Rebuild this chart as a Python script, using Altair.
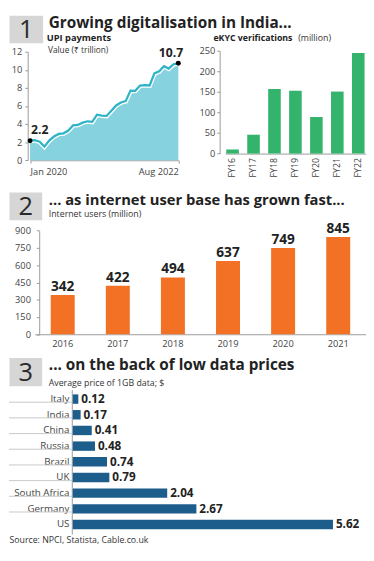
import altair as alt
import pandas as pd

# ---------------- data ----------------
month_names = ["Jan", "Feb", "Mar", "Apr", "May", "Jun", "Jul", "Aug", "Sep", "Oct", "Nov", "Dec"]
months = [f"{m} {y}" for y in (2020, 2021, 2022) for m in month_names][:32]
upi_values = [2.16, 2.23, 2.06, 1.51, 2.18, 2.62, 2.91, 2.98, 3.29, 3.86, 3.91, 4.16,
              4.31, 4.25, 5.04, 4.93, 4.90, 5.47, 6.06, 6.39, 6.54, 7.71, 7.68, 8.26,
              8.32, 8.27, 9.60, 9.83, 10.41, 10.14, 10.62, 10.72]
upi_ticks = [0, 2, 4, 6, 8, 10, 12]

ekyc_years = ["FY16", "FY17", "FY18", "FY19", "FY20", "FY21", "FY22"]
ekyc_values = [10, 46, 157, 153, 89, 151, 245]
ekyc_ticks = [0, 50, 100, 150, 200, 250]

internet_years = ["2016", "2017", "2018", "2019", "2020", "2021"]
internet_users = [342, 422, 494, 637, 749, 845]
internet_ticks = [0, 150, 300, 450, 600, 750, 900]

countries = ["Italy", "India", "China", "Russia", "Brazil", "UK", "South Africa", "Germany", "US"]
prices = [0.12, 0.17, 0.41, 0.48, 0.74, 0.79, 2.04, 2.67, 5.62]

# ---------------- style ----------------
W, H = 366, 545
FONT = "Open Sans"
TXT = "#222222"
AX = "#9a9a9a"
LBL = "#444444"
BOX = "#d6d6d6"
TEAL_FILL = "#86d2de"
TEAL_LINE = "#2fb3c7"
GREEN = "#33b36c"
ORANGE = "#f27124"
BLUE = "#1d5d8b"

one = pd.DataFrame({"k": [0]})


def txt(s, x, y, size=9, weight="normal", color=TXT, align="left", baseline="alphabetic"):
    return alt.Chart(one).mark_text(
        text=s, fontSize=size, fontWeight=weight, font=FONT, color=color,
        align=align, baseline=baseline
    ).encode(x=alt.value(x), y=alt.value(y))


def box(x0, x1, y0, y1, num):
    r = alt.Chart(one).mark_rect(color=BOX).encode(
        x=alt.value(x0), x2=alt.value(x1), y=alt.value(y0), y2=alt.value(y1))
    t = alt.Chart(one).mark_text(text=num, fontSize=26, font=FONT, color="#2a2a2a",
                                 align="center", baseline="middle").encode(
        x=alt.value((x0 + x1) / 2), y=alt.value((y0 + y1) / 2 + 1))
    return [r, t]


def axis(orient, offset, **kw):
    base = dict(orient=orient, offset=offset, title=None, grid=False,
                domainColor=AX, tickColor=AX, labelColor=LBL, labelFont=FONT,
                labelFontSize=9.5)
    base.update(kw)
    return alt.Axis(**base)


# ---------------- panel 1a: UPI ----------------
upi_df = pd.DataFrame({"month": months, "value": upi_values})
ux = alt.X("month:O", sort=months,
           scale=alt.Scale(type="point", range=[21.6, 173.6], padding=0),
           axis=axis("bottom", 148.2 - H, values=["Jan 2020", "Aug 2022"], labelAngle=0,
                     labelFlush=True, tickSize=3, labelPadding=4))
uy = alt.Y("value:Q",
           scale=alt.Scale(domain=[0, 12], range=[148.2, 37], nice=False),
           axis=axis("left", -19.2, values=upi_ticks, tickSize=3, labelPadding=3))
ub = alt.Chart(upi_df)
upi = alt.layer(
    ub.mark_area(color=TEAL_FILL).encode(x=ux, y=uy, y2=alt.datum(0)),
    ub.mark_line(color="white", strokeWidth=5).encode(x=ux, y=uy),
    ub.mark_line(color=TEAL_LINE, strokeWidth=2.3).encode(x=ux, y=uy),
    ub.mark_circle(color="black", size=26, opacity=1).encode(x=ux, y=uy).transform_filter(
        "datum.month == 'Jan 2020' || datum.month == 'Aug 2022'"),
    ub.mark_text(fontSize=12.5, fontWeight="bold", font=FONT, color=TXT, align="left",
                 baseline="alphabetic", dx=1, dy=-7).encode(
        x=ux, y=uy, text=alt.Text("value:Q", format=".1f")).transform_filter(
        "datum.month == 'Jan 2020'"),
    ub.mark_text(fontSize=12.5, fontWeight="bold", font=FONT, color=TXT, align="right",
                 baseline="alphabetic", dx=5, dy=-6).encode(
        x=ux, y=uy, text=alt.Text("value:Q", format=".1f")).transform_filter(
        "datum.month == 'Aug 2022'"),
)

# ---------------- panel 1b: eKYC ----------------
ek_df = pd.DataFrame({"year": ekyc_years, "value": ekyc_values})
ex = alt.X("year:N", sort=ekyc_years,
           scale=alt.Scale(range=[221.7, 365.6], paddingInner=0.4, paddingOuter=0.05),
           axis=axis("bottom", 141.4 - H, labelAngle=270, ticks=False, labelPadding=4,
                     labelFontSize=9))
ey = alt.Y("value:Q", scale=alt.Scale(domain=[0, 250], range=[141.4, 36.1], nice=False),
           axis=axis("left", -216, values=ekyc_ticks, tickSize=3, labelPadding=2))
ekyc = alt.Chart(ek_df).mark_bar(color=GREEN).encode(x=ex, y=ey, y2=alt.datum(0))

# ---------------- panel 2: internet users ----------------
in_df = pd.DataFrame({"year": internet_years, "users": internet_users})
ix = alt.X("year:N", sort=internet_years,
           scale=alt.Scale(range=[26.6, 366], paddingInner=0.565, paddingOuter=0.287),
           axis=axis("bottom", 326.6 - H, labelAngle=0, ticks=False, labelPadding=5))
iy = alt.Y("users:Q", scale=alt.Scale(domain=[0, 900], range=[326.6, 220.4], nice=False),
           axis=axis("left", -31, values=internet_ticks, tickSize=3, labelPadding=6))
ib = alt.Chart(in_df)
internet = alt.layer(
    ib.mark_bar(color=ORANGE).encode(x=ix, y=iy, y2=alt.datum(0)),
    ib.mark_text(fontSize=14, fontWeight="bold", font=FONT, color=TXT,
                 baseline="alphabetic", dy=-4).encode(x=ix, y=iy, text="users:Q"),
)

# ---------------- panel 3: data prices ----------------
pr_df = pd.DataFrame({"country": countries, "price": prices})
py = alt.Y("country:N", sort=countries,
           scale=alt.Scale(range=[383.4, 531.3], paddingInner=0.4, paddingOuter=0.3),
           axis=axis("left", -64.4, ticks=False, labelPadding=3, labelFontSize=10))
px = alt.X("price:Q", scale=alt.Scale(domain=[0, 6.3], range=[65.4, 364.4], nice=False),
           axis=None)
pb = alt.Chart(pr_df)
price = alt.layer(
    pb.mark_rule(color="#c8c8c8", strokeWidth=1).encode(
        y=py, x=alt.value(0), x2=alt.value(64.4), yOffset=alt.value(8.04)).transform_filter(
        "datum.country != 'US'"),
    pb.mark_bar(color=BLUE).encode(y=py, x=px, x2=alt.datum(0)),
    pb.mark_text(fontSize=12, fontWeight="bold", font=FONT, color=TXT, align="left",
                 baseline="middle", dx=3).encode(y=py, x=px, text=alt.Text("price:Q", format=".2f")),
)

# ---------------- headers & texts ----------------
deco = []
deco += box(0.5, 35, 0, 28.3, "1")
deco.append(txt("Growing digitalisation in India...", 40.8, 12.8, size=15.7, weight="bold"))
deco.append(txt("UPI payments", 38.8, 25.8, size=9.5, weight="bold"))
deco.append(txt("Value (₹ trillion)", 40, 38, size=8.5, color="#333333"))
deco.append(txt("eKYC verifications", 209.6, 25.8, size=9, weight="bold"))
deco.append(txt("(million)", 296.5, 25.8, size=9, color="#333333"))

deco += box(0.5, 34, 181.4, 209.6, "2")
deco.append(txt("... as internet user base has grown fast...", 40.8, 194, size=15.1, weight="bold"))
deco.append(txt("Internet users (million)", 40.8, 206.5, size=9, color="#333333"))

deco += box(0.5, 34, 351, 380, "3")
deco.append(txt("... on the back of low data prices", 40.8, 363.5, size=15.7, weight="bold"))
deco.append(txt("Average price of 1GB data; $", 40.8, 379.3, size=9, color="#333333"))

deco.append(txt("Source: NPCI, Statista, Cable.co.uk", 0.5, 541, size=9, color="#333333"))

chart = alt.layer(upi, ekyc, internet, price, *deco).resolve_scale(
    x="independent", y="independent"
).properties(width=W, height=H, padding=0, background="white").configure_view(stroke=None)

chart.save("out.html", embed_options={"renderer": "svg", "actions": False})
